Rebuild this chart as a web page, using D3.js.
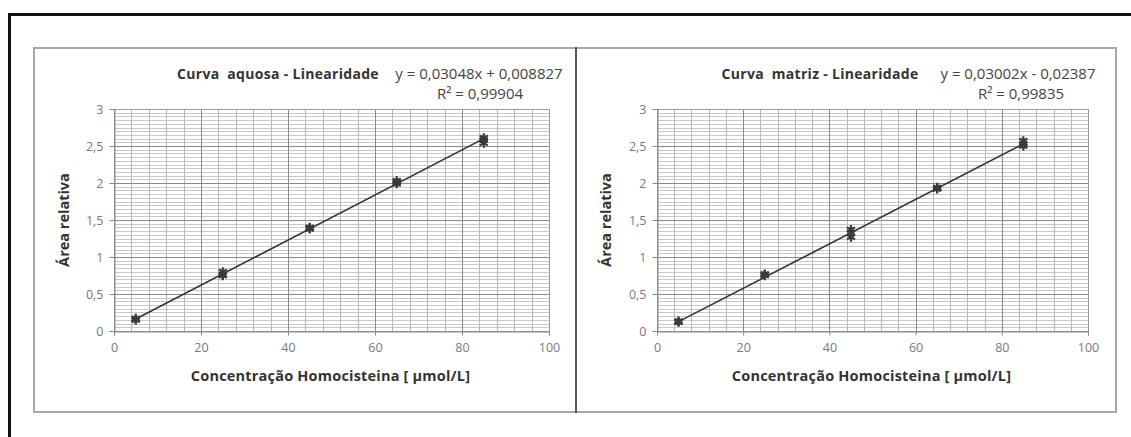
<!DOCTYPE html>
<html>
<head>
<meta charset="utf-8">
<script src="https://cdn.jsdelivr.net/npm/d3@7"></script>
<style>
  html, body { margin: 0; padding: 0; background: #fff; }
  svg { display: block; }
  text { font-family: "Open Sans", Lato, sans-serif; white-space: pre; }
</style>
</head>
<body>
<svg id="chart" width="1131" height="437"></svg>
<script>
// Concentrations (µmol/L) and replicate relative areas
const concentrations = [5, 25, 45, 65, 85];
const aquosaAreas = [
  [0.16, 0.15, 0.17],
  [0.80, 0.75, 0.76],
  [1.39, 1.38, 1.40],
  [2.03, 1.99, 2.01],
  [2.61, 2.54, 2.58]
];
const matrizAreas = [
  [0.12, 0.13, 0.13],
  [0.77, 0.75, 0.76],
  [1.37, 1.27, 1.33],
  [1.94, 1.92, 1.93],
  [2.57, 2.50, 2.53]
];
// Trendline coefficients: slope, intercept
const aquosaFit = [0.03048, 0.008827];
const matrizFit = [0.03002, -0.02387];
const titles = ["Curva  aquosa - Linearidade", "Curva  matriz - Linearidade"];
const equations = ["y = 0,03048x + 0,008827", "y = 0,03002x - 0,02387"];
const r2Labels = ["R² = 0,99904", "R² = 0,99835"];
const xTicks = [0, 20, 40, 60, 80, 100];
const yTicks = [0, 0.5, 1, 1.5, 2, 2.5, 3];
const xTitle = "Concentração Homocisteina [ µmol/L]";
const yTitle = "Área relativa";

const svg = d3.select("#chart");
const fmt = v => String(v).replace(".", ",");

// Outer black frame (continues past the right and bottom edges)
svg.append("rect")
  .attr("x", 9.5).attr("y", 14.5).attr("width", 1140).attr("height", 440)
  .attr("fill", "none").attr("stroke", "#111").attr("stroke-width", 3);

const panels = [
  { box: [34, 48, 576, 412], plot: [114, 109, 549, 331], areas: aquosaAreas, fit: aquosaFit,
    titleX: 278, eqX: 479, r2X: 480, yTitleX: 64 },
  { box: [576, 48, 1116, 412], plot: [657, 109, 1088, 331], areas: matrizAreas, fit: matrizFit,
    titleX: 820, eqX: 1018, r2X: 1021, yTitleX: 606 }
];

// Panel borders
panels.forEach(p => {
  const [x0, y0, x1, y1] = p.box;
  svg.append("rect")
    .attr("x", x0).attr("y", y0).attr("width", x1 - x0).attr("height", y1 - y0)
    .attr("fill", "#fff").attr("stroke", "#a8a8a8").attr("stroke-width", 2);
});
// Divider between the two panels
svg.append("line").attr("x1", 576).attr("x2", 576).attr("y1", 47).attr("y2", 413)
  .attr("stroke", "#555").attr("stroke-width", 2);

panels.forEach((p, i) => {
  const [px0, py0, px1, py1] = p.plot;
  const x = d3.scaleLinear().domain([0, 100]).range([px0, px1]);
  const y = d3.scaleLinear().domain([0, 3]).range([py1, py0]);
  const g = svg.append("g");

  // Minor grid
  const xMinor = d3.range(0, 100.001, 4);
  const yMinor = d3.range(0, 3.0001, 0.05);
  g.append("g").selectAll("line").data(yMinor).join("line")
    .attr("x1", px0).attr("x2", px1)
    .attr("y1", d => Math.round(y(d)) + 0.5).attr("y2", d => Math.round(y(d)) + 0.5)
    .attr("stroke", "#c8c8c8").attr("stroke-width", 1);
  g.append("g").selectAll("line").data(xMinor).join("line")
    .attr("y1", py0).attr("y2", py1)
    .attr("x1", d => Math.round(x(d)) + 0.5).attr("x2", d => Math.round(x(d)) + 0.5)
    .attr("stroke", "#b8b8b8").attr("stroke-width", 1);
  // Major grid
  g.append("g").selectAll("line").data(yTicks).join("line")
    .attr("x1", px0).attr("x2", px1)
    .attr("y1", d => Math.round(y(d)) + 0.5).attr("y2", d => Math.round(y(d)) + 0.5)
    .attr("stroke", "#8a8a8a").attr("stroke-width", 1);
  g.append("g").selectAll("line").data(xTicks).join("line")
    .attr("y1", py0).attr("y2", py1)
    .attr("x1", d => Math.round(x(d)) + 0.5).attr("x2", d => Math.round(x(d)) + 0.5)
    .attr("stroke", "#8a8a8a").attr("stroke-width", 1);

  // Plot area outline
  g.append("rect").attr("x", px0 + 0.5).attr("y", py0 + 0.5)
    .attr("width", px1 - px0).attr("height", py1 - py0)
    .attr("fill", "none").attr("stroke", "#999");

  // Axes
  const xAxis = g.append("g").attr("transform", `translate(0,${py1 + 0.5})`)
    .call(d3.axisBottom(x).tickValues(xTicks).tickSize(4).tickPadding(8).tickFormat(d3.format("d")));
  const yAxis = g.append("g").attr("transform", `translate(${px0 + 0.5},0)`)
    .call(d3.axisLeft(y).tickValues(yTicks).tickSize(5).tickPadding(6).tickFormat(fmt));
  [xAxis, yAxis].forEach(a => {
    a.select(".domain").attr("stroke", "#888");
    a.selectAll(".tick line").attr("stroke", "#888");
    a.selectAll(".tick text").attr("fill", "#7a7a7a")
      .style("font-family", "'Open Sans', sans-serif").style("font-size", "12.5px");
  });

  // Trendline across the measured range
  const [m, b] = p.fit;
  const xr = d3.extent(concentrations);
  g.append("line")
    .attr("x1", x(xr[0])).attr("y1", y(m * xr[0] + b))
    .attr("x2", x(xr[1])).attr("y2", y(m * xr[1] + b))
    .attr("stroke", "#333").attr("stroke-width", 1.6);

  // Replicate markers
  const pts = [];
  concentrations.forEach((c, k) => p.areas[k].forEach(v => pts.push([c, v])));
  const sym = d3.symbol().type(d3.symbolAsterisk).size(60);
  g.append("g").selectAll("path").data(pts).join("path")
    .attr("d", sym)
    .attr("transform", d => `translate(${x(d[0])},${y(d[1])})`)
    .attr("fill", "none").attr("stroke", "#3a3a3a").attr("stroke-width", 2.2);

  // Titles and trendline labels
  g.append("text").attr("x", p.titleX).attr("y", 79).attr("text-anchor", "middle")
    .attr("fill", "#333").style("font-weight", "bold").style("font-size", "14px")
    .style("letter-spacing", "0.3px").text(titles[i]);
  g.append("text").attr("x", p.eqX).attr("y", 79).attr("text-anchor", "middle")
    .attr("fill", "#444").style("font-size", "15px").text(equations[i]);
  g.append("text").attr("x", p.r2X).attr("y", 99).attr("text-anchor", "middle")
    .attr("fill", "#444").style("font-size", "15px").text(r2Labels[i]);

  // Axis titles
  g.append("text").attr("x", (px0 + px1) / 2 - 1).attr("y", 381).attr("text-anchor", "middle")
    .attr("fill", "#333").style("font-weight", "bold").style("font-size", "14.5px")
    .style("letter-spacing", "0.2px").text(xTitle);
  g.append("text").attr("transform", `translate(${p.yTitleX},${(py0 + py1) / 2})rotate(-90)`)
    .attr("text-anchor", "middle").attr("dy", "0.35em")
    .attr("fill", "#333").style("font-weight", "bold").style("font-size", "14.5px")
    .text(yTitle);
});
</script>
</body>
</html>
